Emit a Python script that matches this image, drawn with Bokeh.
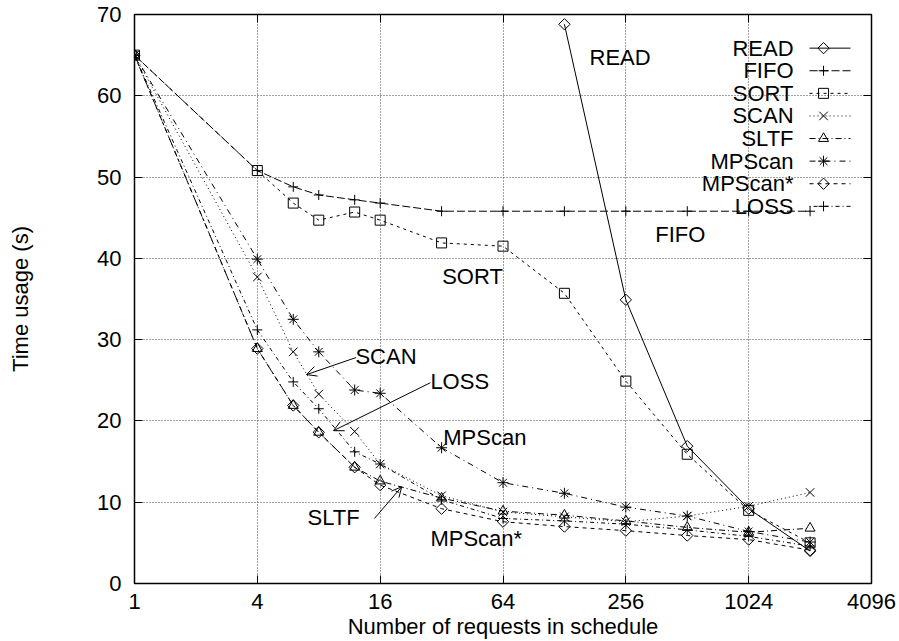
import math
from bokeh.plotting import figure
from bokeh.models import (FixedTicker, LinearAxis, LogAxis, Label, Arrow, OpenHead,
                          BasicTickFormatter, Range1d)
from bokeh.embed import file_html
from bokeh.resources import INLINE

# ---------------- data ----------------
x_all = [1, 4, 6, 8, 12, 16, 32, 64, 128, 256, 512, 1024, 2048]
x_read = [128, 256, 512, 1024, 2048]

read = [68.8, 34.9, 16.9, 9.2, 4.0]
fifo = [65, 50.8, 48.8, 47.8, 47.2, 46.8, 45.8, 45.8, 45.8, 45.8, 45.8, 45.8, 45.8]
sort_ = [65, 50.8, 46.8, 44.7, 45.7, 44.7, 41.9, 41.5, 35.7, 24.9, 15.9, 9.0, 5.0]
scan = [65, 37.7, 28.5, 23.3, 18.7, 14.7, 10.8, 8.8, 8.2, 7.6, 8.3, 9.5, 11.2]
sltf = [65, 28.9, 21.9, 18.6, 14.3, 12.6, 10.5, 8.9, 8.4, 7.7, 6.9, 6.3, 6.8]
mpscan = [65, 39.9, 32.5, 28.5, 23.8, 23.4, 16.7, 12.4, 11.1, 9.4, 8.3, 6.4, 5.1]
mpscan_s = [65, 28.9, 21.9, 18.6, 14.3, 12.1, 9.2, 7.6, 7.0, 6.5, 5.9, 5.4, 4.1]
loss = [65, 31.2, 24.8, 21.5, 16.2, 14.7, 10.3, 8.0, 7.7, 7.3, 6.6, 5.8, 4.6]

names = ["READ", "FIFO", "SORT", "SCAN", "SLTF", "MPScan", "MPScan*", "LOSS"]
xticks = [1, 4, 16, 64, 256, 1024, 4096]
yticks = [0, 10, 20, 30, 40, 50, 60, 70]

FONT = "Liberation Sans"
FS = "22px"

# (x, y, dash, marker, marker angle, marker size)
series = [
    (x_read, read, "solid", "square", math.pi / 4, 8),
    (x_all, fifo, "8 3", "cross", 0, 10),
    (x_all, sort_, "3 4", "square", 0, 10),
    (x_all, scan, "1 3", "x", 0, 12),
    (x_all, sltf, "6 3 1 3", "triangle", 0, 10),
    (x_all, mpscan, "6 4 1 4", "asterisk", 0, 11),
    (x_all, mpscan_s, "4 4", "square", math.pi / 4, 8),
    (x_all, loss, "1 3 4 3", "cross", 0, 10),
]

p = figure(width=899, height=641, x_axis_type="log",
           x_range=Range1d(1, 4096), y_range=Range1d(0, 70),
           output_backend="svg", toolbar_location=None,
           min_border_left=134, min_border_right=28,
           min_border_top=14, min_border_bottom=58)

p.outline_line_color = "black"
p.outline_line_width = 1.5
p.background_fill_color = "white"
p.border_fill_color = "white"

# axes
p.xaxis.ticker = FixedTicker(ticks=xticks)
p.xaxis.formatter = BasicTickFormatter(use_scientific=False)
p.yaxis.ticker = FixedTicker(ticks=yticks)
for ax in (p.xaxis[0], p.yaxis[0]):
    ax.axis_line_color = None
    ax.major_tick_in = 8
    ax.major_tick_out = 0
    ax.minor_tick_line_color = None
    ax.major_label_text_font = FONT
    ax.major_label_text_font_size = FS
    ax.major_label_text_color = "black"
    ax.axis_label_text_font = FONT
    ax.axis_label_text_font_size = FS
    ax.axis_label_text_font_style = "normal"
    ax.axis_label_text_color = "black"
p.xaxis.axis_label = "Number of requests in schedule"
p.yaxis.axis_label = "Time usage (s)"
p.xaxis.major_label_standoff = 10
p.xaxis.axis_label_standoff = 2
p.yaxis.major_label_standoff = 13
p.yaxis.axis_label_standoff = 61

right = LinearAxis(ticker=FixedTicker(ticks=yticks), major_tick_in=8, major_tick_out=0,
                   axis_line_color=None, minor_tick_line_color=None,
                   major_label_text_font_size="1px", major_label_text_color=None,
                   major_label_standoff=0)
p.add_layout(right, "right")
top = LogAxis(ticker=FixedTicker(ticks=xticks), major_tick_in=8, major_tick_out=0,
              axis_line_color=None, minor_tick_line_color=None,
              major_label_text_font_size="1px", major_label_text_color=None,
              major_label_standoff=0)
p.add_layout(top, "above")

# grid
p.xgrid.ticker = FixedTicker(ticks=xticks)
p.ygrid.ticker = FixedTicker(ticks=yticks)
for g in (p.xgrid[0], p.ygrid[0]):
    g.grid_line_color = "#444444"
    g.grid_line_dash = "1 2"
    g.grid_line_width = 1

# series
for (xs, ys, dash, marker, ang, sz) in series:
    p.line(xs, ys, line_color="black", line_width=1, line_dash=dash)
    p.scatter(xs, ys, marker=marker, angle=ang, size=sz,
              line_color="black", fill_color=None, line_width=1)

# in-plot labels (left edge, vertical centre), arrows
txt = [
    ("READ", 170, 64.7),
    ("FIFO", 357, 42.9),
    ("SORT", 32.2, 37.8),
    ("SCAN", 12.1, 27.9),
    ("LOSS", 28.2, 24.9),
    ("MPScan", 32.6, 18.0),
    ("SLTF", 7.05, 8.1),
    ("MPScan*", 28.2, 5.5),
]
for t, tx, ty in txt:
    p.add_layout(Label(x=tx, y=ty, text=t, text_font=FONT, text_font_size=FS,
                       text_align="left", text_baseline="middle", text_color="black"))

arrows = [
    (12.2, 27.8, 6.97, 25.7),
    (28.2, 24.7, 9.45, 18.8),
    (15.0, 8.0, 20.4, 11.9),
]
for x0, y0, x1, y1 in arrows:
    p.add_layout(Arrow(end=OpenHead(size=10, line_width=1, line_color="black"),
                       x_start=x0, y_start=y0, x_end=x1, y_end=y1,
                       line_color="black", line_width=1))

# legend (text right-aligned, sample to the right)
LEG_TX = 1699
LEG_X0, LEG_X1, LEG_XM = 2035, 3232, 2384
LEG_TOP, LEG_STEP = 65.86, 2.78
for i, (name, (xs, ys, dash, marker, ang, sz)) in enumerate(zip(names, series)):
    ly = LEG_TOP - i * LEG_STEP
    p.add_layout(Label(x=LEG_TX, y=ly, text=name, text_font=FONT, text_font_size=FS,
                       text_align="right", text_baseline="middle", text_color="black"))
    p.line([LEG_X0, LEG_X1], [ly, ly], line_color="black", line_width=1, line_dash=dash)
    p.scatter([LEG_XM], [ly], marker=marker, angle=ang, size=sz,
              line_color="black", fill_color=None, line_width=1)

open("out.html", "w").write(file_html(p, INLINE))
